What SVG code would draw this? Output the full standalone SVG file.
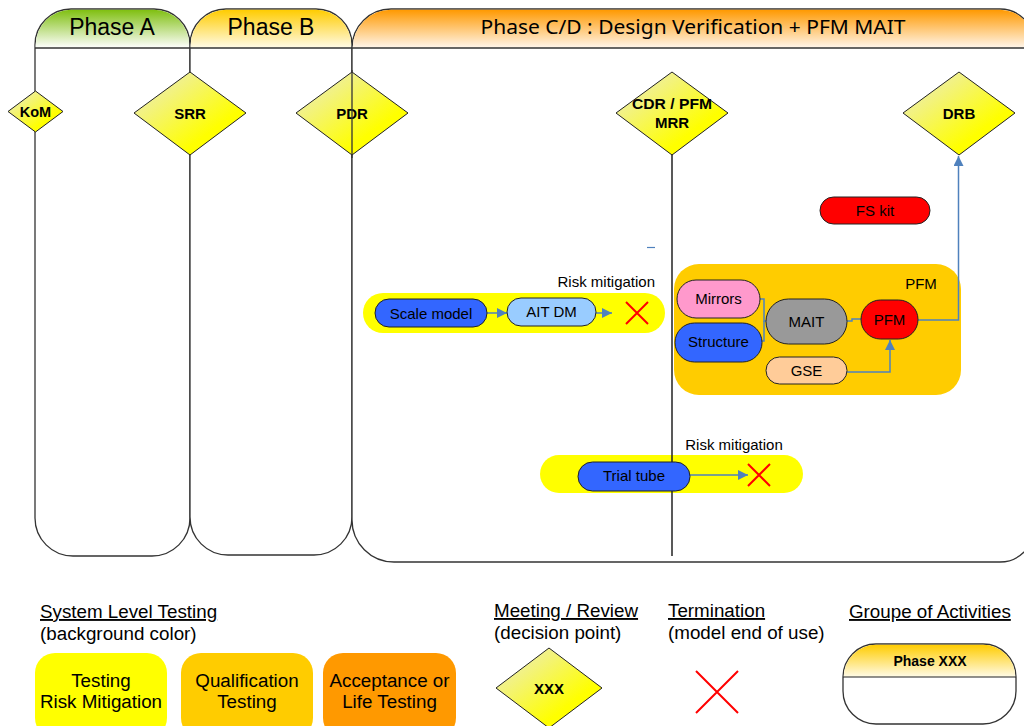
<svg xmlns="http://www.w3.org/2000/svg" width="1024" height="726" viewBox="0 0 1024 726">
<defs>
<linearGradient id="gA" x1="0" y1="0" x2="0" y2="1"><stop offset="0" stop-color="#7fbf10"/><stop offset="1" stop-color="#ffffff"/></linearGradient>
<linearGradient id="gB" x1="0" y1="0" x2="0" y2="1"><stop offset="0" stop-color="#ffcc00"/><stop offset="1" stop-color="#fffbe8"/></linearGradient>
<linearGradient id="gC" x1="0" y1="0" x2="0" y2="1"><stop offset="0" stop-color="#ff9900"/><stop offset="1" stop-color="#fff6ec"/></linearGradient>
<linearGradient id="gD" x1="0" y1="0" x2="1" y2="1"><stop offset="0.15" stop-color="#eeeeaa"/><stop offset="0.7" stop-color="#ffff00"/></linearGradient>
<marker id="ah" viewBox="0 0 10 10" refX="10" refY="5" markerWidth="10" markerHeight="10" markerUnits="userSpaceOnUse" orient="auto"><path d="M0,0 L10,5 L0,10 Z" fill="#4f81bd"/></marker>
</defs>
<style>
.ph{fill:#fff;stroke:#333;stroke-width:1.3}
.hd{stroke:none}
.dm{fill:url(#gD);stroke:#222;stroke-width:1}
.dt{font-family:"Liberation Sans",Arial,sans-serif;font-weight:bold;font-size:15px;text-anchor:middle;fill:#000}
.t{font-family:"Liberation Sans",Arial,sans-serif;font-size:15px;fill:#000}
.c{text-anchor:middle}
.nd{stroke:#222;stroke-width:1}
.cn{fill:none;stroke:#4f81bd;stroke-width:1.5}
.x{stroke:#ff0000;stroke-width:2;fill:none}
.lg{font-family:"Liberation Sans",Arial,sans-serif;font-size:18.8px;fill:#000}
.ul{text-decoration:underline}
</style>
<rect width="1024" height="726" fill="#fff"/>
<g id="phases">
<g id="phaseA">
<path class="ph" d="M35,48 V45 A36,36 0 0 1 71,9 H154 A36,36 0 0 1 190,45 V518 A38,38 0 0 1 152,556 H73 A38,38 0 0 1 35,518 Z"/>
<path class="hd" fill="url(#gA)" d="M35.7,48 V45 A35.3,35.3 0 0 1 71,9.7 H154 A35.3,35.3 0 0 1 189.3,45 V48 Z"/>
<text x="112" y="35" class="t c" style="font-size:23px">Phase A</text>
</g>
<g id="phaseB">
<path class="ph" d="M190,45 A36,36 0 0 1 226,9 H316 A36,36 0 0 1 352,45 V517 A38,38 0 0 1 314,555 H228 A38,38 0 0 1 190,517 Z"/>
<path class="hd" fill="url(#gB)" d="M190.7,48 V45 A35.3,35.3 0 0 1 226,9.7 H316 A35.3,35.3 0 0 1 351.3,45 V48 Z"/>
<text x="271" y="35" class="t c" style="font-size:23px">Phase B</text>
</g>
<g id="phaseCD">
<path class="ph" d="M352,48 A39,39 0 0 1 391,9 H1000 A34,34 0 0 1 1034,43 V528 A34,34 0 0 1 1000,562 H394 A42,42 0 0 1 352,520 Z"/>
<path class="hd" fill="url(#gC)" d="M352.7,48 A38.3,38.3 0 0 1 391,9.7 H1000 A33.3,33.3 0 0 1 1033.3,43 V48 Z"/>
<text x="693" y="34" class="t c" style="font-family:'Noto Sans','Open Sans',sans-serif;font-size:19px" textLength="425" lengthAdjust="spacingAndGlyphs">Phase C/D  : Design Verification + PFM MAIT</text>
</g>
<path d="M35,48 H1034" stroke="#333" stroke-width="1.3" fill="none"/>
</g>
<g id="cdr-line"><path d="M672,150 V556" stroke="#222" stroke-width="1.5"/></g>
<g id="kom"><path class="dm" d="M35.5,91 L63,111.5 L35.5,132 L8,111.5 Z"/><text x="35.5" y="117" class="dt" style="font-size:14.5px">KoM</text></g>
<g id="srr"><path class="dm" d="M190,72 L246,113 L190,155 L134,113 Z"/><text x="190" y="119" class="dt">SRR</text></g>
<g id="pdr"><path class="dm" d="M352,72 L408,113 L352,155 L296,113 Z"/><text x="352" y="119" class="dt">PDR</text></g>
<path d="M352,70 V158" stroke="#333" stroke-width="1.3"/>
<g id="cdr"><path class="dm" d="M672,72 L728,113 L672,155 L616,113 Z"/><text x="672" y="109" class="dt" textLength="80" lengthAdjust="spacingAndGlyphs">CDR / PFM</text><text x="672" y="128" class="dt">MRR</text></g>
<g id="drb"><path class="dm" d="M959,72 L1015,113 L959,155 L903,113 Z"/><text x="959" y="119" class="dt">DRB</text></g>
<g id="fskit"><rect class="nd" x="820" y="197" width="110" height="27" rx="13.5" fill="#ff0000"/><text x="875" y="216" class="t c">FS kit</text></g>
<path d="M647,247.5 H655" stroke="#4f81bd" stroke-width="1.2"/>
<g id="scale-group">
<rect x="363" y="293" width="302" height="40" rx="20" fill="#ffff00"/>
<text x="655" y="287" class="t" text-anchor="end">Risk mitigation</text>
</g>
<g id="pfm-group">
<rect x="674" y="264" width="287" height="131" rx="25" fill="#ffcc00"/>
<text x="921" y="289" class="t c">PFM</text>
</g>
<g id="trial-group">
<rect x="540" y="455" width="263" height="38" rx="19" fill="#ffff00"/>
<text x="734" y="450" class="t c">Risk mitigation</text>
</g>
<path d="M672,455 V493" stroke="#222" stroke-width="1.5"/>
<g id="connectors">
<path class="cn" d="M487,313 H507" marker-end="url(#ah)"/>
<path class="cn" d="M596,313 H612" marker-end="url(#ah)"/>
<path class="cn" d="M690,475 H748" marker-end="url(#ah)"/>
<path class="cn" d="M760,299 H764 V321 H767"/>
<path class="cn" d="M762,341 H764 V321"/>
<path class="cn" d="M847,321 H852 V319 H862"/>
<path class="cn" d="M918,320 H958.5 V156" marker-end="url(#ah)"/>
<path class="cn" d="M847,372 H890 V340" marker-end="url(#ah)"/>
</g>
<g id="scale-model"><rect class="nd" x="375" y="299" width="112" height="28" rx="14" fill="#3366ff"/><text x="431" y="318.5" class="t c">Scale model</text></g>
<g id="ait-dm"><rect class="nd" x="507" y="298" width="89" height="28" rx="14" fill="#99ccff"/><text x="551.5" y="317" class="t c">AIT DM</text></g>
<g id="x1"><path class="x" d="M626,302 L648,324 M648,302 L626,324"/></g>
<g id="mirrors"><rect class="nd" x="677" y="280" width="83" height="38" rx="19" fill="#ff99cc"/><text x="718.5" y="304" class="t c">Mirrors</text></g>
<g id="structure"><rect class="nd" x="675" y="323" width="87" height="39" rx="19.5" fill="#3366ff"/><text x="718.5" y="347" class="t c">Structure</text></g>
<g id="mait"><rect class="nd" x="766" y="299" width="81" height="45" rx="22.5" fill="#999999"/><text x="806.5" y="327" class="t c">MAIT</text></g>
<g id="pfm"><rect class="nd" x="861" y="300" width="57" height="39" rx="19.5" fill="#ff0000"/><text x="889.5" y="325" class="t c">PFM</text></g>
<g id="gse"><rect class="nd" x="766" y="357" width="81" height="27" rx="13.5" fill="#ffcc99"/><text x="806.5" y="376" class="t c">GSE</text></g>
<g id="trial-tube"><rect class="nd" x="578" y="462" width="112" height="29" rx="14.5" fill="#3366ff"/><text x="634" y="481" class="t c">Trial tube</text></g>
<g id="x2"><path class="x" d="M748,464 L770,486 M770,464 L748,486"/></g>
<g id="legend">
<text x="40" y="618" class="lg ul">System Level Testing</text>
<text x="40" y="640" class="lg">(background color)</text>
<rect x="35" y="653" width="132" height="85" rx="20" fill="#ffff00"/>
<text x="101" y="687" class="lg c">Testing</text>
<text x="101" y="708" class="lg c">Risk Mitigation</text>
<rect x="181" y="653" width="132" height="85" rx="20" fill="#ffcc00"/>
<text x="247" y="687" class="lg c">Qualification</text>
<text x="247" y="708" class="lg c">Testing</text>
<rect x="323" y="653" width="133" height="85" rx="20" fill="#ff9900"/>
<text x="389.5" y="687" class="lg c">Acceptance or</text>
<text x="389.5" y="708" class="lg c">Life Testing</text>
<text x="494" y="617" class="lg ul">Meeting / Review</text>
<text x="494" y="639" class="lg">(decision point)</text>
<path class="dm" d="M549,648 L602,688 L549,728 L496,688 Z"/>
<text x="549" y="694" class="dt">XXX</text>
<text x="668" y="617" class="lg ul">Termination</text>
<text x="668" y="639" class="lg">(model end of use)</text>
<path class="x" d="M696,671 L738,713 M738,671 L696,713"/>
<text x="849" y="618" class="lg ul">Groupe of Activities</text>
<path class="ph" d="M843,677 A33,33 0 0 1 876,644 H983 A33,33 0 0 1 1016,677 V691 A33,33 0 0 1 983,724 H876 A33,33 0 0 1 843,691 Z"/>
<path class="hd" fill="url(#gB)" d="M843.7,677 A32.3,32.3 0 0 1 876,644.7 H983 A32.3,32.3 0 0 1 1015.3,677 Z"/>
<path d="M843,677 H1016" stroke="#222" stroke-width="1.2"/>
<text x="930" y="666" class="dt" style="font-size:14px">Phase XXX</text>
</g>
</svg>
